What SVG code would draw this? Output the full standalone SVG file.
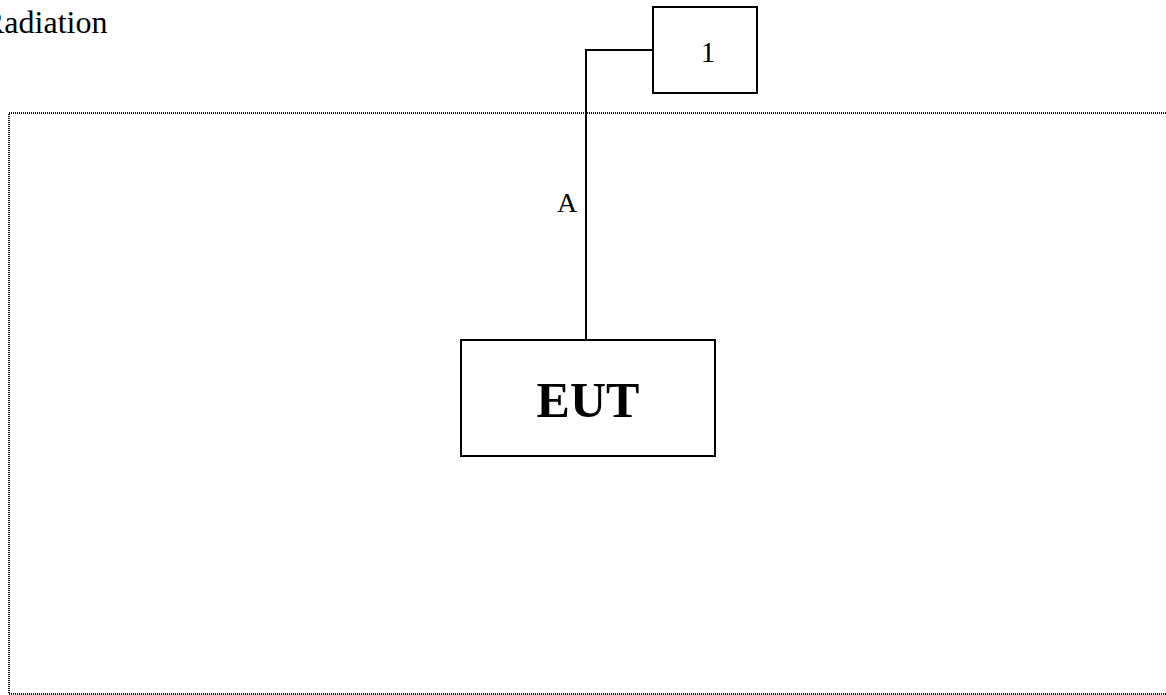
<svg xmlns="http://www.w3.org/2000/svg" width="1166" height="695" viewBox="0 0 1166 695">
<style>
.t{font-family:"Liberation Serif","Times New Roman",serif;fill:#000}
.box{fill:#fff;stroke:#000;stroke-width:2}
.wire{fill:none;stroke:#000;stroke-width:2}
.frame{fill:none;stroke:#111;stroke-width:2;stroke-dasharray:1 1}
</style>
<rect width="1166" height="695" fill="#fff"/>
<text class="t" x="-17" y="33" font-size="32">Radiation</text>
<g id="frame">
<path class="frame" d="M1170,113 H9 V694 H1170"/>
</g>
<g id="connectors">
<path class="wire" d="M653,50 H586 V340"/>
<text class="t" x="557" y="212" font-size="28">A</text>
</g>
<g id="node-1">
<rect class="box" x="653" y="7" width="104" height="86"/>
<text class="t" x="708" y="62" font-size="29" text-anchor="middle">1</text>
</g>
<g id="node-eut">
<rect class="box" x="461" y="340" width="254" height="116"/>
<text class="t" x="588" y="417" font-size="50" font-weight="bold" text-anchor="middle">EUT</text>
</g>
</svg>
